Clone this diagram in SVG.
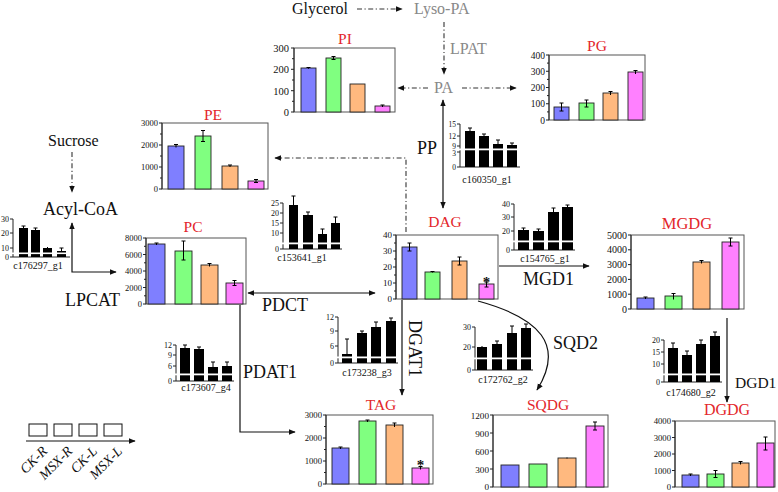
<svg xmlns="http://www.w3.org/2000/svg" width="778" height="492" viewBox="0 0 778 492">
<defs>
<marker id="ah" viewBox="0 0 10 10" refX="9" refY="5" markerWidth="7" markerHeight="7" orient="auto-start-reverse" markerUnits="userSpaceOnUse"><path d="M0,1 L10,5 L0,9 z" fill="#111"/></marker>
</defs>
<style>
text{font-family:"Liberation Serif","Times New Roman",serif;fill:#111}
.lbl{font-size:16px}
.big{font-size:18px}
.gray{fill:#888}
.title{fill:#e3262b;font-size:15.5px;text-anchor:middle}
.ax{font-size:9px;text-anchor:end}
.gl{font-size:10px;text-anchor:middle}
.gax{font-size:8px;text-anchor:end}
.frame{fill:none;stroke:#555;stroke-width:1}
.axl{stroke:#222;stroke-width:1;fill:none}
.b{fill:#7f7fff;stroke:#222;stroke-width:0.9}
.g{fill:#80ff80;stroke:#222;stroke-width:0.9}
.o{fill:#ffb97f;stroke:#222;stroke-width:0.9}
.p{fill:#ff80ff;stroke:#222;stroke-width:0.9}
.k{fill:#000}
.err{stroke:#000;stroke-width:1;fill:none}
.brk{fill:#fff}
.solid{stroke:#111;stroke-width:1.2;fill:none}
.dd{stroke:#333;stroke-width:1.1;fill:none;stroke-dasharray:5 2.5 1.2 2.5}
.leg{fill:#fff;stroke:#111;stroke-width:1}
</style>

<!-- connectors -->
<g id="connectors">
<path class="dd" d="M357,9 H402" marker-end="url(#ah)"/>
<path class="dd" d="M444,22 V74" marker-end="url(#ah)"/>
<path class="dd" d="M428,88 H398" marker-end="url(#ah)"/>
<path class="dd" d="M462,88 H516" marker-end="url(#ah)"/>
<path class="solid" d="M443,100 V208" marker-start="url(#ah)" marker-end="url(#ah)"/>
<path class="dd" d="M406,232 V158 H275" marker-end="url(#ah)"/>
<path class="dd" d="M72,152 V192" marker-end="url(#ah)"/>
<path class="solid" d="M72,223 V272 H116" marker-start="url(#ah)" marker-end="url(#ah)"/>
<path class="solid" d="M248,293 H375" marker-start="url(#ah)" marker-end="url(#ah)"/>
<path class="solid" d="M499,266 H589" marker-end="url(#ah)"/>
<path class="solid" d="M402,300 V395" marker-end="url(#ah)"/>
<path class="solid" d="M240,305 V432 H295" marker-end="url(#ah)"/>
<path class="solid" d="M478,301 C540,318 565,345 537,390" marker-end="url(#ah)"/>
<path class="solid" d="M727,318 V402" marker-end="url(#ah)"/>
</g>

<!-- labels -->
<g id="labels">
<text class="lbl" x="292" y="14">Glycerol</text>
<text class="lbl gray" x="414" y="14">Lyso-PA</text>
<text class="lbl gray" x="450" y="54">LPAT</text>
<text class="lbl gray" x="434" y="93">PA</text>
<text class="big" x="417" y="154">PP</text>
<text class="lbl" x="48" y="146">Sucrose</text>
<text class="big" x="43" y="215">Acyl-CoA</text>
<text class="big" x="65" y="306">LPCAT</text>
<text class="big" x="262" y="311">PDCT</text>
<text class="big" x="523" y="285">MGD1</text>
<text class="big" x="243" y="378">PDAT1</text>
<text class="big" transform="translate(409,320) rotate(90)">DGAT1</text>
<text class="big" x="553" y="349">SQD2</text>
<text x="735" y="388" style="font-size:15.5px">DGD1</text>
</g>

<!-- PI -->
<g id="PI">
<text class="title" x="345" y="44">PI</text>
<rect class="frame" x="294" y="48" width="101" height="64"/>
<path class="axl" d="M294,48 V112 M291,48 H294 M291,69.3 H294 M291,90.7 H294 M291,112 H294 M292,58.7 H294 M292,80 H294 M292,101.3 H294"/>
<g class="ax" style="font-size:10.5px"><text x="289" y="52">300</text><text x="289" y="73">200</text><text x="289" y="94.5">100</text><text x="289" y="116">0</text></g>
<rect class="b" x="301" y="68" width="15" height="44"/>
<rect class="g" x="326" y="58" width="15" height="54"/>
<rect class="o" x="350" y="84" width="15" height="28"/>
<rect class="p" x="375" y="106" width="15" height="6"/>
<path class="err" d="M308.5,67.3 V68.7 M306.5,67.5 H310.5 M333.5,56.5 V59.5 M331.5,56.5 H335.5 M331.5,59.5 H335.5 M382.5,105 V107 M380.5,105 H384.5"/>
</g>

<!-- PG -->
<g id="PG">
<text class="title" x="597" y="51">PG</text>
<rect class="frame" x="549" y="55" width="96" height="65"/>
<path class="axl" d="M549,55 V120 M546,55 H549 M546,71.25 H549 M546,87.5 H549 M546,103.75 H549 M546,120 H549 M547,63.1 H549 M547,79.4 H549 M547,95.6 H549 M547,111.9 H549"/>
<g class="ax" style="font-size:9.5px"><text x="545" y="58.5">400</text><text x="545" y="74.5">300</text><text x="545" y="91">200</text><text x="545" y="107">100</text><text x="545" y="123.5">0</text></g>
<rect class="b" x="554" y="107" width="15" height="13"/>
<rect class="g" x="579" y="103" width="15" height="17"/>
<rect class="o" x="603" y="93" width="15" height="27"/>
<rect class="p" x="628" y="72" width="15" height="48"/>
<path class="err" d="M561.5,103 V111 M559.5,103 H563.5 M559.5,111 H563.5 M586.5,100 V107 M584.5,100 H588.5 M584.5,107 H588.5 M610.5,91.5 V95 M608.5,91.5 H612.5 M635.5,70.5 V74 M633.5,70.5 H637.5"/>
</g>

<!-- PE -->
<g id="PE">
<text class="title" x="213" y="120">PE</text>
<rect class="frame" x="162" y="123" width="106" height="66"/>
<path class="axl" d="M162,123 V189 M159,123 H162 M159,145 H162 M159,167 H162 M159,189 H162 M160,134 H162 M160,156 H162 M160,178 H162"/>
<g class="ax" style="font-size:8.5px"><text x="158" y="126">3000</text><text x="158" y="148">2000</text><text x="158" y="170">1000</text><text x="158" y="192">0</text></g>
<rect class="b" x="168" y="146" width="16" height="43"/>
<rect class="g" x="195" y="136" width="16" height="53"/>
<rect class="o" x="222" y="166" width="16" height="23"/>
<rect class="p" x="248" y="181" width="16" height="8"/>
<path class="err" d="M176,144.5 V147.5 M174,144.5 H178 M203,130.5 V141.5 M201,130.5 H205 M201,141.5 H205 M230,165 V167 M228,165 H232 M256,179.5 V182.5 M254,179.5 H258 M254,182.5 H258"/>
</g>

<!-- PC -->
<g id="PC">
<text class="title" x="193" y="232">PC</text>
<rect class="frame" x="146" y="238" width="100" height="66"/>
<path class="axl" d="M146,238 V304 M143,238 H146 M143,254.5 H146 M143,271 H146 M143,287.5 H146 M143,304 H146 M144,246.3 H146 M144,262.8 H146 M144,279.3 H146 M144,295.8 H146"/>
<g class="ax" style="font-size:8.5px"><text x="142" y="241">8000</text><text x="142" y="257.5">6000</text><text x="142" y="274">4000</text><text x="142" y="290.5">2000</text><text x="142" y="307">0</text></g>
<rect class="b" x="148" y="244" width="17" height="60"/>
<rect class="g" x="175" y="251" width="17" height="53"/>
<rect class="o" x="201" y="265" width="17" height="39"/>
<rect class="p" x="226" y="283" width="17" height="21"/>
<path class="err" d="M156.5,243 V245 M154.5,243 H158.5 M183.5,241 V260 M181.5,241 H185.5 M181.5,260 H185.5 M209.5,263.5 V266.5 M207.5,263.5 H211.5 M234.5,280.5 V285.5 M232.5,280.5 H236.5 M232.5,285.5 H236.5"/>
</g>

<!-- DAG -->
<g id="DAG">
<text class="title" x="445" y="227">DAG</text>
<rect class="frame" x="396" y="235" width="102" height="64"/>
<path class="axl" d="M396,235 V299 M393,235 H396 M393,251 H396 M393,267 H396 M393,283 H396 M393,299 H396 M394,243 H396 M394,259 H396 M394,275 H396 M394,291 H396"/>
<g class="ax"><text x="392" y="238">40</text><text x="392" y="254">30</text><text x="392" y="270">20</text><text x="392" y="286">10</text><text x="392" y="302">0</text></g>
<rect class="b" x="402" y="247" width="15" height="52"/>
<rect class="g" x="425" y="272" width="15" height="27"/>
<rect class="o" x="452" y="261" width="15" height="38"/>
<rect class="p" x="479" y="284" width="15" height="15"/>
<path class="err" d="M409.5,243 V251 M407.5,243 H411.5 M407.5,251 H411.5 M432.5,271.5 V272.5 M430.5,271.5 H434.5 M459.5,257 V265 M457.5,257 H461.5 M457.5,265 H461.5 M486.5,282 V287 M484.5,282 H488.5 M484.5,287 H488.5"/>
<text x="486.5" y="287" style="font-size:15px;text-anchor:middle;font-weight:bold">*</text>
</g>

<!-- MGDG -->
<g id="MGDG">
<text class="title" x="687" y="229" style="font-size:16.5px">MGDG</text>
<rect class="frame" x="631" y="235" width="113" height="74"/>
<path class="axl" d="M631,235 V309 M628,235 H631 M628,249.8 H631 M628,264.6 H631 M628,279.4 H631 M628,294.2 H631 M628,309 H631"/>
<g class="ax" style="font-size:10px"><text x="627" y="238.5">5000</text><text x="627" y="253.3">4000</text><text x="627" y="268">3000</text><text x="627" y="283">2000</text><text x="627" y="297.7">1000</text><text x="627" y="312.5">0</text></g>
<rect class="b" x="637" y="298" width="17" height="11"/>
<rect class="g" x="665" y="296" width="17" height="13"/>
<rect class="o" x="693" y="262" width="17" height="47"/>
<rect class="p" x="722" y="242" width="17" height="67"/>
<path class="err" d="M645.5,297 V299 M643.5,297 H647.5 M673.5,293.5 V299.5 M671.5,293.5 H675.5 M701.5,260.5 V263.5 M699.5,260.5 H703.5 M730.5,238 V246 M728.5,238 H732.5 M728.5,246 H732.5"/>
</g>

<!-- TAG -->
<g id="TAG">
<text class="title" x="381" y="410">TAG</text>
<rect class="frame" x="326" y="415" width="107" height="69"/>
<path class="axl" d="M326,415 V484 M323,415 H326 M323,438 H326 M323,461 H326 M323,484 H326 M324,426.5 H326 M324,449.5 H326 M324,472.5 H326"/>
<g class="ax" style="font-size:8.7px"><text x="322" y="418">3000</text><text x="322" y="441">2000</text><text x="322" y="464">1000</text><text x="322" y="487">0</text></g>
<rect class="b" x="332" y="448" width="17" height="36"/>
<rect class="g" x="359" y="421" width="17" height="63"/>
<rect class="o" x="386" y="425" width="17" height="59"/>
<rect class="p" x="412" y="468" width="17" height="16"/>
<path class="err" d="M340.5,447 V449 M338.5,447 H342.5 M367.5,420 V422 M365.5,420 H369.5 M394.5,423 V427 M392.5,423 H396.5 M420.5,466.5 V469.5 M418.5,466.5 H422.5"/>
<text x="420.5" y="470" style="font-size:15px;text-anchor:middle;font-weight:bold">*</text>
</g>

<!-- SQDG -->
<g id="SQDG">
<text class="title" x="548" y="410">SQDG</text>
<rect class="frame" x="493" y="415" width="115" height="72"/>
<path class="axl" d="M493,415 V487 M490,415 H493 M490,433 H493 M490,451 H493 M490,469 H493 M490,487 H493"/>
<g class="ax" style="font-size:9.2px"><text x="489" y="418.5">1200</text><text x="489" y="436.5">900</text><text x="489" y="454.5">600</text><text x="489" y="472.5">300</text><text x="489" y="490">0</text></g>
<rect class="b" x="501" y="465" width="18" height="22"/>
<rect class="g" x="529" y="464" width="18" height="23"/>
<rect class="o" x="558" y="458" width="18" height="29"/>
<rect class="p" x="586" y="426" width="18" height="61"/>
<path class="err" d="M567,457.5 V458.5 M595,422 V430 M593,422 H597 M593,430 H597"/>
</g>

<!-- DGDG -->
<g id="DGDG">
<text class="title" x="727" y="415" style="font-size:16px">DGDG</text>
<rect class="frame" x="675" y="421" width="100" height="66"/>
<path class="axl" d="M675,421 V487 M672,421 H675 M672,437.5 H675 M672,454 H675 M672,470.5 H675 M672,487 H675"/>
<g class="ax" style="font-size:8.7px"><text x="671" y="424">4000</text><text x="671" y="440.5">3000</text><text x="671" y="457">2000</text><text x="671" y="473.5">1000</text><text x="671" y="490">0</text></g>
<rect class="b" x="682" y="475" width="17" height="12"/>
<rect class="g" x="707" y="474" width="17" height="13"/>
<rect class="o" x="732" y="463" width="17" height="24"/>
<rect class="p" x="757" y="443" width="17" height="44"/>
<path class="err" d="M690.5,474 V476 M688.5,474 H692.5 M715.5,470.5 V477.5 M713.5,470.5 H717.5 M713.5,477.5 H717.5 M740.5,461.5 V464.5 M738.5,461.5 H742.5 M765.5,437 V450 M763.5,437 H767.5 M763.5,450 H767.5"/>
</g>

<!-- gene charts -->
<g id="c176297_g1">
<path class="axl" d="M13,219 V257 M10,219 H13 M10,233 H13 M10,248 H13 M10,257 H70"/>
<g class="gax"><text x="9" y="222">30</text><text x="9" y="236">20</text><text x="9" y="251">10</text><text x="9" y="260">0</text></g>
<rect class="k" x="19" y="228" width="9" height="29"/><rect class="k" x="31" y="230" width="9" height="27"/><rect class="k" x="43" y="248" width="9" height="9"/><rect class="k" x="57" y="251" width="9" height="6"/>
<path class="err" d="M23.5,226 V228 M21.5,226 H25.5 M35.5,228 V230 M33.5,228 H37.5 M47.5,247 V248 M61.5,248 V251 M59.5,248 H63.5"/>
<rect class="brk" x="12" y="252.5" width="56" height="1.6"/>
<text class="gl" x="38" y="269">c176297_g1</text>
</g>

<g id="c160350_g1">
<path class="axl" d="M460,124 V167 M457,124 H460 M457,136 H460 M457,146 H460 M457,152 H460 M457,167 H520"/>
<g class="gax" style="font-size:7.5px"><text x="456" y="127">15</text><text x="456" y="139">12</text><text x="456" y="148.5">9</text><text x="456" y="156">3</text><text x="456" y="170">0</text></g>
<rect class="k" x="465" y="131" width="10" height="36"/><rect class="k" x="479" y="136" width="10" height="31"/><rect class="k" x="493" y="144" width="10" height="23"/><rect class="k" x="507" y="145" width="10" height="22"/>
<path class="err" d="M470,128 V131 M468,128 H472 M484,134 V136 M482,134 H486 M498,140 V144 M496,140 H500 M512,143 V145 M510,143 H514"/>
<rect class="brk" x="459" y="148.5" width="60" height="1.8"/>
<text class="gl" x="487" y="183">c160350_g1</text>
</g>

<g id="c153641_g1">
<path class="axl" d="M283,203 V249 M280,203 H283 M280,213 H283 M280,223 H283 M280,233 H283 M280,249 H342"/>
<g class="gax"><text x="279" y="206">25</text><text x="279" y="216">20</text><text x="279" y="226">15</text><text x="279" y="236">10</text><text x="279" y="251.5">0</text></g>
<rect class="k" x="289" y="205" width="9" height="44"/><rect class="k" x="303" y="215" width="10" height="34"/><rect class="k" x="318" y="234" width="9" height="15"/><rect class="k" x="331" y="223" width="9" height="26"/>
<path class="err" d="M293.5,196 V205 M291.5,196 H295.5 M308,212 V215 M306,212 H310 M322.5,229 V234 M320.5,229 H324.5 M335.5,217 V223 M333.5,217 H337.5"/>
<rect class="brk" x="282" y="242.5" width="60" height="1.8"/>
<text class="gl" x="302" y="261">c153641_g1</text>
</g>

<g id="c154765_g1">
<path class="axl" d="M514,204 V250 M511,204 H514 M511,217 H514 M511,231 H514 M511,250 H575"/>
<g class="gax"><text x="510" y="207">40</text><text x="510" y="220">30</text><text x="510" y="234">20</text><text x="510" y="253">0</text></g>
<rect class="k" x="518" y="230" width="11" height="20"/><rect class="k" x="533" y="231" width="11" height="19"/><rect class="k" x="548" y="212" width="11" height="38"/><rect class="k" x="562" y="207" width="11" height="43"/>
<path class="err" d="M523.5,228 V230 M521.5,228 H525.5 M538.5,229 V231 M536.5,229 H540.5 M553.5,208 V212 M551.5,208 H555.5 M567.5,205 V207 M565.5,205 H569.5"/>
<rect class="brk" x="513" y="240.5" width="62" height="1.8"/>
<text class="gl" x="545" y="262">c154765_g1</text>
</g>

<g id="c173238_g3">
<path class="axl" d="M338,317 V363 M335,317 H338 M335,331 H338 M335,346 H338 M335,363 H398"/>
<g class="gax"><text x="334" y="320">12</text><text x="334" y="334">9</text><text x="334" y="349">6</text><text x="334" y="366">0</text></g>
<rect class="k" x="342" y="354" width="10" height="9"/><rect class="k" x="357" y="333" width="10" height="30"/><rect class="k" x="371" y="327" width="10" height="36"/><rect class="k" x="386" y="321" width="10" height="42"/>
<path class="err" d="M347,339 V354 M345,339 H349 M362,331 V333 M360,331 H364 M376,322 V327 M374,322 H378 M391,318 V321 M389,318 H393"/>
<rect class="brk" x="337" y="356.5" width="60" height="1.8"/>
<text class="gl" x="367" y="376">c173238_g3</text>
</g>

<g id="c172762_g2">
<path class="axl" d="M475,327 V370 M472,327 H475 M472,347 H475 M472,370 H533"/>
<g class="gax"><text x="471" y="330">30</text><text x="471" y="350">20</text><text x="471" y="373">0</text></g>
<rect class="k" x="477" y="347" width="10" height="23"/><rect class="k" x="492" y="344" width="10" height="26"/><rect class="k" x="507" y="333" width="10" height="37"/><rect class="k" x="521" y="328" width="10" height="42"/>
<path class="err" d="M482,346 V347 M497,341 V344 M495,341 H499 M512,326 V333 M510,326 H514 M526,324 V328 M524,324 H528"/>
<rect class="brk" x="474" y="357.5" width="58" height="1.8"/>
<text class="gl" x="503" y="383">c172762_g2</text>
</g>

<g id="c173607_g4">
<path class="axl" d="M176,345 V381 M173,345 H176 M173,355 H176 M173,366 H176 M173,381 H234"/>
<g class="gax"><text x="172" y="348">12</text><text x="172" y="358">9</text><text x="172" y="369">6</text><text x="172" y="384">0</text></g>
<rect class="k" x="180" y="348" width="10" height="33"/><rect class="k" x="194" y="349" width="10" height="32"/><rect class="k" x="208" y="367" width="10" height="14"/><rect class="k" x="222" y="366" width="10" height="15"/>
<path class="err" d="M185,345 V348 M183,345 H187 M199,347 V349 M197,347 H201 M213,362 V367 M211,362 H215 M227,362 V366 M225,362 H229"/>
<rect class="brk" x="175" y="373.5" width="58" height="1.8"/>
<text class="gl" x="206" y="391">c173607_g4</text>
</g>

<g id="c174680_g2">
<path class="axl" d="M664,340 V382 M661,340 H664 M661,352 H664 M661,364 H664 M661,382 H722"/>
<g class="gax"><text x="660" y="343">20</text><text x="660" y="355">15</text><text x="660" y="367">10</text><text x="660" y="385">0</text></g>
<rect class="k" x="668" y="348" width="10" height="34"/><rect class="k" x="682" y="355" width="10" height="27"/><rect class="k" x="696" y="344" width="10" height="38"/><rect class="k" x="710" y="336" width="10" height="46"/>
<path class="err" d="M673,343 V348 M671,343 H675 M687,351 V355 M685,351 H689 M701,340 V344 M699,340 H703 M715,332 V336 M713,332 H717"/>
<rect class="brk" x="663" y="373.5" width="58" height="1.8"/>
<text class="gl" x="691" y="396">c174680_g2</text>
</g>

<!-- legend -->
<g id="legend">
<rect class="leg" x="29" y="424" width="18" height="12"/>
<rect class="leg" x="54" y="424" width="18" height="12"/>
<rect class="leg" x="79" y="424" width="18" height="12"/>
<rect class="leg" x="104" y="424" width="18" height="12"/>
<path class="solid" d="M26,441 H135" marker-end="url(#ah)"/>
<g style="font-size:14px;font-style:italic;text-anchor:end">
<text transform="translate(48,452) rotate(-45)">CK-R</text>
<text transform="translate(73,452) rotate(-45)">MSX-R</text>
<text transform="translate(98,452) rotate(-45)">CK-L</text>
<text transform="translate(123,452) rotate(-45)">MSX-L</text>
</g>
</g>
</svg>
